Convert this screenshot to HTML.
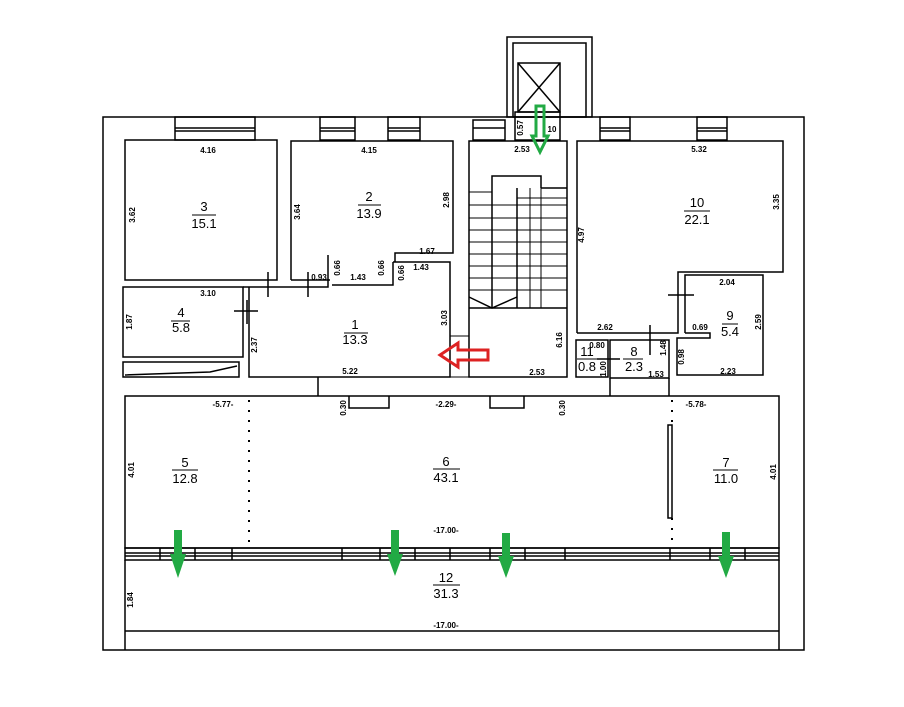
<!DOCTYPE html>
<html><head><meta charset="utf-8"><style>
html,body{margin:0;padding:0;background:#fff;}
svg{display:block}
text{font-family:"Liberation Sans",sans-serif;fill:#000}
.d{font-size:8px;font-weight:bold}
.n{font-size:13px}
</style></head><body>
<svg width="904" height="707" viewBox="0 0 904 707" xmlns="http://www.w3.org/2000/svg">
<g fill="none" stroke="#000" stroke-width="1.5">
<!-- outer walls -->
<rect x="103" y="117" width="701" height="533"/>
<rect x="507" y="37" width="85" height="80"/>
<rect x="513" y="43" width="73" height="74"/>
<rect x="518" y="63" width="42" height="49"/>
<line x1="518" y1="63" x2="560" y2="112"/><line x1="560" y1="63" x2="518" y2="112"/>
<rect x="515" y="112" width="45" height="28"/>
<!-- top windows -->
<rect x="175" y="117" width="80" height="23"/><line x1="175" y1="128" x2="255" y2="128"/><line x1="175" y1="131" x2="255" y2="131"/>
<rect x="320" y="117" width="35" height="23"/><line x1="320" y1="128" x2="355" y2="128"/><line x1="320" y1="131" x2="355" y2="131"/>
<rect x="388" y="117" width="32" height="23"/><line x1="388" y1="128" x2="420" y2="128"/><line x1="388" y1="131" x2="420" y2="131"/>
<rect x="473" y="120" width="32" height="20"/><line x1="473" y1="128" x2="505" y2="128"/>
<rect x="600" y="117" width="30" height="23"/><line x1="600" y1="128" x2="630" y2="128"/><line x1="600" y1="131" x2="630" y2="131"/>
<rect x="697" y="117" width="30" height="23"/><line x1="697" y1="128" x2="727" y2="128"/><line x1="697" y1="131" x2="727" y2="131"/>
<!-- room 3 -->
<rect x="125" y="140" width="152" height="140"/>
<!-- room 2 -->
<polyline points="291,280 291,141 453,141 453,253 395,253 395,262"/>
<line x1="291" y1="280" x2="330" y2="280"/>
<polyline points="332,285 393,285 393,262"/>
<!-- room 1 -->
<polyline points="249,287 328,287 328,255"/>
<polyline points="393,262 450,262 450,377 249,377 249,287"/>
<line x1="318" y1="377" x2="318" y2="396"/>
<!-- room 4 -->
<rect x="123" y="287" width="120" height="70"/>
<rect x="123" y="362" width="116" height="15"/>
<polyline points="125,375 210,372 237,366"/>
<line x1="243" y1="287" x2="249" y2="287"/>
<!-- door ticks -->
<line x1="268" y1="272" x2="268" y2="297"/><line x1="308" y1="272" x2="308" y2="297"/>
<line x1="234" y1="311" x2="258" y2="311"/><line x1="247" y1="300" x2="247" y2="324"/>
<!-- stair room -->
<rect x="469" y="141" width="98" height="236"/>
<polyline points="492,308 492,176 541,176 541,188"/>
<line x1="517" y1="188" x2="517" y2="308"/>
<line x1="541" y1="188" x2="567" y2="188"/>
<g stroke-width="1">
<line x1="469" y1="192" x2="492" y2="192"/><line x1="469" y1="205" x2="567" y2="205"/>
<line x1="469" y1="218" x2="567" y2="218"/><line x1="469" y1="230" x2="567" y2="230"/>
<line x1="469" y1="242" x2="567" y2="242"/><line x1="469" y1="254" x2="567" y2="254"/>
<line x1="469" y1="266" x2="567" y2="266"/><line x1="469" y1="278" x2="567" y2="278"/>
<line x1="469" y1="290" x2="567" y2="290"/><line x1="517" y1="198" x2="567" y2="198"/>
<line x1="530" y1="188" x2="530" y2="308"/><line x1="541" y1="188" x2="541" y2="308"/>
</g>
<polyline points="469,297 492,308 517,297"/>
<line x1="469" y1="308" x2="567" y2="308"/>
<rect x="450" y="336" width="19" height="41" stroke-width="1"/>
<!-- room 10 -->
<polyline points="577,333 577,141 783,141 783,272 678,272 678,333 577,333"/>
<!-- room 9 -->
<polyline points="685,333 685,275 763,275 763,375 677,375 677,338 710,338 710,333 685,333"/>
<line x1="668" y1="295" x2="694" y2="295"/>
<!-- room 11, 8 -->
<rect x="576" y="340" width="32" height="37"/>
<rect x="610" y="340" width="59" height="38"/>
<line x1="650" y1="325" x2="650" y2="355"/>
<line x1="597" y1="359" x2="620" y2="359"/>
<line x1="610" y1="378" x2="610" y2="396"/><line x1="669" y1="378" x2="669" y2="396"/>
<!-- large lower -->
<rect x="125" y="396" width="654" height="152"/>
<polyline points="349,396 349,408 389,408 389,396"/>
<polyline points="490,396 490,408 524,408 524,396"/>
<rect x="668" y="425" width="4" height="93"/>
<!-- window band -->
<rect x="125" y="548" width="654" height="12"/>
<line x1="125" y1="553" x2="779" y2="553"/><line x1="125" y1="556" x2="779" y2="556"/>
<line x1="160" y1="548" x2="160" y2="560"/><line x1="195" y1="548" x2="195" y2="560"/>
<line x1="232" y1="548" x2="232" y2="560"/><line x1="342" y1="548" x2="342" y2="560"/>
<line x1="380" y1="548" x2="380" y2="560"/><line x1="415" y1="548" x2="415" y2="560"/>
<line x1="450" y1="548" x2="450" y2="560"/><line x1="490" y1="548" x2="490" y2="560"/>
<line x1="525" y1="548" x2="525" y2="560"/><line x1="565" y1="548" x2="565" y2="560"/>
<line x1="670" y1="548" x2="670" y2="560"/><line x1="710" y1="548" x2="710" y2="560"/>
<line x1="745" y1="548" x2="745" y2="560"/>
<!-- room 12 -->
<line x1="125" y1="560" x2="125" y2="650"/><line x1="779" y1="560" x2="779" y2="650"/>
<line x1="125" y1="631" x2="779" y2="631"/>
</g>
<g stroke="#000" stroke-width="2" stroke-dasharray="2,8">
<line x1="249" y1="400" x2="249" y2="548"/><line x1="672" y1="400" x2="672" y2="425"/><line x1="672" y1="518" x2="672" y2="548"/>
</g>
<!-- fraction lines -->
<g stroke="#000" stroke-width="1">
<line x1="192" y1="215" x2="216" y2="215"/><line x1="358" y1="205" x2="381" y2="205"/>
<line x1="344" y1="333" x2="368" y2="333"/><line x1="171" y1="321" x2="190" y2="321"/>
<line x1="684" y1="211" x2="710" y2="211"/><line x1="722" y1="324" x2="738" y2="324"/>
<line x1="577" y1="359" x2="598" y2="359"/><line x1="623" y1="359" x2="643" y2="359"/>
<line x1="172" y1="470" x2="198" y2="470"/><line x1="433" y1="469" x2="460" y2="469"/>
<line x1="713" y1="470" x2="738" y2="470"/><line x1="433" y1="585" x2="460" y2="585"/>
</g>
<g class="n" text-anchor="middle">
<text x="204" y="211">3</text><text x="204" y="228">15.1</text>
<text x="369" y="201">2</text><text x="369" y="218">13.9</text>
<text x="355" y="329">1</text><text x="355" y="344">13.3</text>
<text x="181" y="317">4</text><text x="181" y="332">5.8</text>
<text x="697" y="207">10</text><text x="697" y="224">22.1</text>
<text x="730" y="320">9</text><text x="730" y="336">5.4</text>
<text x="587" y="356">11</text><text x="587" y="371">0.8</text>
<text x="634" y="356">8</text><text x="634" y="371">2.3</text>
<text x="185" y="467">5</text><text x="185" y="483">12.8</text>
<text x="446" y="466">6</text><text x="446" y="482">43.1</text>
<text x="726" y="467">7</text><text x="726" y="483">11.0</text>
<text x="446" y="582">12</text><text x="446" y="598">31.3</text>
</g>
<g class="d" text-anchor="middle">
<text x="208" y="153">4.16</text><text x="369" y="153">4.15</text>
<text x="208" y="296">3.10</text><text x="350" y="374">5.22</text>
<text x="427" y="254">1.67</text><text x="421" y="270">1.43</text>
<text x="358" y="280">1.43</text><text x="319" y="280">0.93</text>
<text x="522" y="152">2.53</text><text x="537" y="375">2.53</text>
<text x="699" y="152">5.32</text><text x="727" y="285">2.04</text>
<text x="605" y="330">2.62</text><text x="700" y="330">0.69</text>
<text x="597" y="348">0.80</text><text x="656" y="377">1.53</text>
<text x="728" y="374">2.23</text>
<text x="223" y="407">-5.77-</text><text x="446" y="407">-2.29-</text><text x="696" y="407">-5.78-</text>
<text x="446" y="533">-17.00-</text><text x="446" y="628">-17.00-</text>
<text x="552" y="132">10</text>
</g>
<g class="d" text-anchor="middle">
<text transform="translate(135,215) rotate(-90)">3.62</text>
<text transform="translate(300,212) rotate(-90)">3.64</text>
<text transform="translate(449,200) rotate(-90)">2.98</text>
<text transform="translate(132,322) rotate(-90)">1.87</text>
<text transform="translate(257,345) rotate(-90)">2.37</text>
<text transform="translate(447,318) rotate(-90)">3.03</text>
<text transform="translate(340,268) rotate(-90)">0.66</text>
<text transform="translate(384,268) rotate(-90)">0.66</text>
<text transform="translate(404,273) rotate(-90)">0.66</text>
<text transform="translate(523,128) rotate(-90)">0.57</text>
<text transform="translate(562,340) rotate(-90)">6.16</text>
<text transform="translate(584,235) rotate(-90)">4.97</text>
<text transform="translate(779,202) rotate(-90)">3.35</text>
<text transform="translate(761,322) rotate(-90)">2.59</text>
<text transform="translate(666,348) rotate(-90)">1.48</text>
<text transform="translate(684,357) rotate(-90)">0.98</text>
<text transform="translate(606,369) rotate(-90)">1.00</text>
<text transform="translate(346,408) rotate(-90)">0.30</text>
<text transform="translate(565,408) rotate(-90)">0.30</text>
<text transform="translate(134,470) rotate(-90)">4.01</text>
<text transform="translate(776,472) rotate(-90)">4.01</text>
<text transform="translate(133,600) rotate(-90)">1.84</text>
</g>
<!-- green arrows -->
<g fill="#22aa44">
<path d="M174,530 h8 v24 h4 l-8,24 l-8,-24 h4 z"/>
<path d="M391,530 h8 v24 h4 l-8,22 l-8,-22 h4 z"/>
<path d="M502,533 h8 v23 h4 l-8,22 l-8,-22 h4 z"/>
<path d="M722,532 h8 v24 h4 l-8,22 l-8,-22 h4 z"/>
</g>
<path d="M536,106 h8 v30 h4 l-8,16 l-8,-16 h4 z" fill="none" stroke="#22aa44" stroke-width="3"/>
<!-- red arrow -->
<path d="M488,350 v10 h-30 v7 l-18,-12 l18,-12 v7 z" fill="none" stroke="#dd2222" stroke-width="3"/>
</svg>
</body></html>
